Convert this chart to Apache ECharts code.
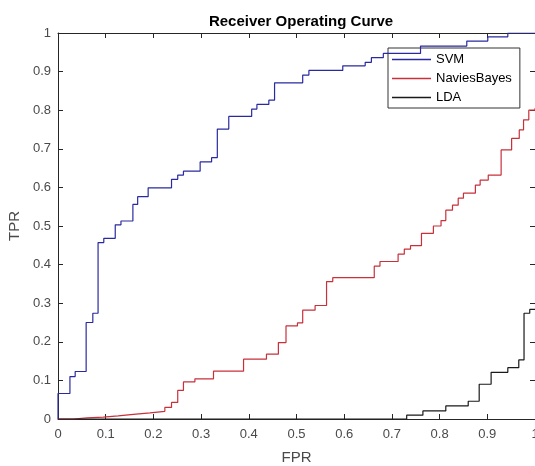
<!DOCTYPE html>
<html>
<head>
<meta charset="utf-8">
<script src="https://cdn.jsdelivr.net/npm/echarts@6/dist/echarts.min.js"></script>
<style>
html,body{margin:0;padding:0;background:#fff;}
#c{width:535px;height:466px;}
</style>
</head>
<body>
<div id="c"></div>
<script>
// ---- data ----
var svmFPR = [0, 0, 0.025, 0.036, 0.059, 0.073, 0.084, 0.096, 0.120, 0.132, 0.157, 0.167, 0.189, 0.238, 0.251, 0.263, 0.298, 0.322, 0.334, 0.358, 0.406, 0.417, 0.442, 0.454, 0.513, 0.526, 0.597, 0.644, 0.657, 0.682, 0.760, 0.857, 0.901, 0.943, 1];
var svmTPR = [0, 0.066, 0.110, 0.123, 0.250, 0.274, 0.457, 0.468, 0.503, 0.513, 0.556, 0.576, 0.599, 0.621, 0.632, 0.642, 0.666, 0.677, 0.751, 0.784, 0.803, 0.815, 0.826, 0.871, 0.891, 0.903, 0.915, 0.924, 0.936, 0.947, 0.966, 0.979, 0.990, 1.000, 1];

var nbFPR = [0, 0.032, 0.061, 0.095, 0.126, 0.158, 0.193, 0.224, 0.238, 0.251, 0.263, 0.287, 0.326, 0.389, 0.437, 0.462, 0.478, 0.502, 0.513, 0.539, 0.563, 0.576, 0.663, 0.675, 0.713, 0.726, 0.739, 0.762, 0.787, 0.803, 0.813, 0.827, 0.839, 0.850, 0.875, 0.885, 0.902, 0.929, 0.951, 0.967, 0.976, 0.987, 1];
var nbTPR = [0, 0.003, 0.005, 0.008, 0.012, 0.016, 0.020, 0.030, 0.043, 0.074, 0.096, 0.104, 0.124, 0.155, 0.168, 0.198, 0.241, 0.249, 0.282, 0.294, 0.356, 0.366, 0.396, 0.408, 0.427, 0.440, 0.449, 0.481, 0.500, 0.514, 0.541, 0.554, 0.572, 0.585, 0.606, 0.619, 0.632, 0.697, 0.727, 0.749, 0.775, 0.800, 0.805];

var ldaFPR = [0, 0.731, 0.765, 0.813, 0.860, 0.883, 0.908, 0.943, 0.966, 0.977, 0.989, 1];
var ldaTPR = [0, 0.010, 0.021, 0.034, 0.046, 0.090, 0.121, 0.133, 0.153, 0.274, 0.284, 0.284];

var seriesNames = ['SVM', 'NaviesBayes', 'LDA'];
var xTicks = [0, 0.1, 0.2, 0.3, 0.4, 0.5, 0.6, 0.7, 0.8, 0.9, 1];
var yTicks = [0, 0.1, 0.2, 0.3, 0.4, 0.5, 0.6, 0.7, 0.8, 0.9, 1];

function pairs(xs, ys) { return xs.map(function (x, i) { return [x, ys[i]]; }); }

var FONT = '"Liberation Sans", Arial, sans-serif';
var AX = '#262626';
var LBL = '#4a4a4a';

var chart = echarts.init(document.getElementById('c'), null, { renderer: 'canvas' });

function axisBase(extra) {
  var o = {
    type: 'value', min: 0, max: 1, interval: 0.1,
    splitLine: { show: false },
    axisLine: { show: true, onZero: false, lineStyle: { color: AX, width: 1 } },
    axisTick: { show: true, inside: true, length: 5, lineStyle: { color: AX } },
    axisLabel: { show: false }
  };
  for (var k in extra) o[k] = extra[k];
  return o;
}

var option = {
  animation: false,
  backgroundColor: '#fff',
  title: {
    text: 'Receiver Operating Curve',
    left: 296, top: 9, textAlign: 'center',
    textStyle: { fontFamily: FONT, fontSize: 15, fontWeight: 'bold', color: '#000' }
  },
  grid: { left: 58, top: 33, width: 477, height: 386, containLabel: false, outerBoundsMode: 'none' },
  legend: {
    data: seriesNames,
    orient: 'vertical',
    left: 388, top: 48,
    padding: [5, 8, 4, 4],
    icon: 'rect',
    itemWidth: 39, itemHeight: 1.3, itemGap: 6,
    backgroundColor: '#fff',
    borderColor: '#333', borderWidth: 1, borderRadius: 0,
    textStyle: { fontFamily: FONT, fontSize: 13, color: '#000', lineHeight: 13 }
  },
  xAxis: [
    axisBase({
      position: 'bottom',
      name: 'FPR', nameLocation: 'middle', nameGap: 31,
      nameTextStyle: { fontFamily: FONT, fontSize: 15, color: LBL },
      axisLabel: {
        show: true, margin: 9, fontFamily: FONT, fontSize: 13, color: LBL,
        formatter: function (v) { return String(Math.round(v * 10) / 10); }
      }
    }),
    axisBase({ position: 'top' })
  ],
  yAxis: [
    axisBase({
      position: 'left',
      name: 'TPR', nameLocation: 'middle', nameGap: 31, nameRotate: 90,
      nameTextStyle: { fontFamily: FONT, fontSize: 15, color: LBL },
      axisLabel: {
        show: true, margin: 7, fontFamily: FONT, fontSize: 13, color: LBL,
        formatter: function (v) { return String(Math.round(v * 10) / 10); }
      }
    }),
    axisBase({ position: 'right' })
  ],
  series: [
    { name: seriesNames[0], type: 'line', step: 'end', showSymbol: false, symbol: 'none',
      data: pairs(svmFPR, svmTPR), lineStyle: { color: '#2a2aa0', width: 1.2 }, itemStyle: { color: '#2a2aa0' }, z: 5 },
    { name: seriesNames[1], type: 'line', step: 'end', showSymbol: false, symbol: 'none',
      data: pairs(nbFPR, nbTPR), lineStyle: { color: '#c8303a', width: 1.2 }, itemStyle: { color: '#c8303a' }, z: 5 },
    { name: seriesNames[2], type: 'line', step: 'end', showSymbol: false, symbol: 'none',
      data: pairs(ldaFPR, ldaTPR), lineStyle: { color: '#1a1a1a', width: 1.2 }, itemStyle: { color: '#1a1a1a' }, z: 5 }
  ]
};
chart.setOption(option);
</script>
</body>
</html>
